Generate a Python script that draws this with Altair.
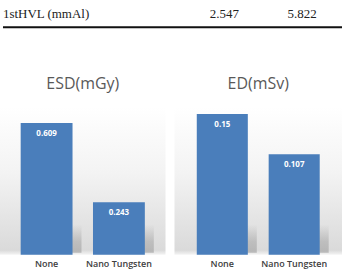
import altair as alt
import pandas as pd

# ---- data ----
categories = ["None", "Nano Tungsten"]
esd_values = [0.609, 0.243]
ed_values = [0.15, 0.107]
row_label = ["1stHVL (mmAl)"]
row_columns = ["col1", "col2"]
row_values = ["2.547", "5.822"]

BAR = "#4a7ebb"
FONT = "Open Sans"

bg_grad = alt.Gradient(
    gradient="linear", x1=0, x2=0, y1=0, y2=1,
    stops=[alt.GradientStop(color="#ffffff", offset=0),
           alt.GradientStop(color="#f3f3f3", offset=0.45),
           alt.GradientStop(color="#dadada", offset=0.97),
           alt.GradientStop(color="#f4f4f4", offset=1)],
)
shadow_grad = alt.Gradient(
    gradient="linear", x1=0, x2=0, y1=0, y2=1,
    stops=[alt.GradientStop(color="rgba(170,170,170,0)", offset=0),
           alt.GradientStop(color="rgba(170,170,170,0.6)", offset=0.6),
           alt.GradientStop(color="rgba(170,170,170,0.75)", offset=1)],
)

# ---- table fragment at the top ----
label_df = pd.DataFrame({"text": row_label})
vals_df = pd.DataFrame({"col": row_columns, "text": row_values})

tbl_label = alt.Chart(label_df).mark_text(
    align="left", baseline="alphabetic", font="Liberation Serif", fontSize=13, color="#222222"
).encode(x=alt.value(3), y=alt.value(18), text="text:N")

tbl_v1 = alt.Chart(vals_df).transform_filter(alt.datum.col == "col1").mark_text(
    align="center", baseline="alphabetic", font="Liberation Serif", fontSize=13, color="#222222"
).encode(x=alt.value(225), y=alt.value(18), text="text:N")

tbl_v2 = alt.Chart(vals_df).transform_filter(alt.datum.col == "col2").mark_text(
    align="center", baseline="alphabetic", font="Liberation Serif", fontSize=13, color="#222222"
).encode(x=alt.value(303), y=alt.value(18), text="text:N")

tbl_rule = alt.Chart(label_df).mark_rule(color="#111111", strokeWidth=2).encode(
    x=alt.value(3), x2=alt.value(343), y=alt.value(27)
)

table = alt.layer(tbl_label, tbl_v1, tbl_v2, tbl_rule).properties(width=343, height=28)


def panel(values, title, ymax, width, pin, pout):
    df = pd.DataFrame({"cat": categories, "val": values})
    base = alt.Chart(df)
    xenc = alt.X(
        "cat:N", sort=categories, title=None,
        scale=alt.Scale(paddingInner=pin, paddingOuter=pout),
        axis=alt.Axis(labelAngle=0, domain=False, ticks=False, labelPadding=5,
                      labelFontSize=9, labelFont=FONT, labelFontWeight=600,
                      labelColor="#404040", labelAlign="center"),
    )
    yenc = alt.Y("val:Q", scale=alt.Scale(domain=[0, ymax], nice=False), axis=None)
    bgd = alt.Chart(pd.DataFrame({"k": [0]})).mark_rect(fill=bg_grad).encode(
        x=alt.value(0), x2=alt.value(width), y=alt.value(0), y2=alt.value(148)
    )
    shadow = base.mark_bar(fill=shadow_grad, xOffset=9).encode(
        x=xenc, y=alt.value(118), y2=alt.value(146)
    )
    bars = base.mark_bar(color=BAR).encode(x=xenc, y=yenc)
    labels = base.mark_text(color="white", fontWeight="bold", fontSize=8, font=FONT,
                            baseline="middle", dy=11).encode(
        x=xenc, y=yenc, text=alt.Text("val:Q")
    )
    return alt.layer(bgd, shadow, bars, labels).properties(
        width=width, height=148,
        title=alt.TitleParams(title, fontSize=16, font=FONT, fontWeight="normal",
                              color="#595959", offset=15, anchor="middle"),
    )


left = panel(esd_values, "ESD(mGy)", 0.683, 166, 0.283, 0.286)
right = panel(ed_values, "ED(mSv)", 0.1574, 168, 0.29, 0.31)

bars_row = alt.hconcat(left, right, spacing=9, bounds="flush")

chart = alt.vconcat(table, bars_row, spacing=79, bounds="flush").properties(
    padding=0, autosize=alt.AutoSizeParams(type="pad")
).configure_view(stroke=None)

chart.save("out.html", embed_options={"renderer": "svg", "actions": False})
